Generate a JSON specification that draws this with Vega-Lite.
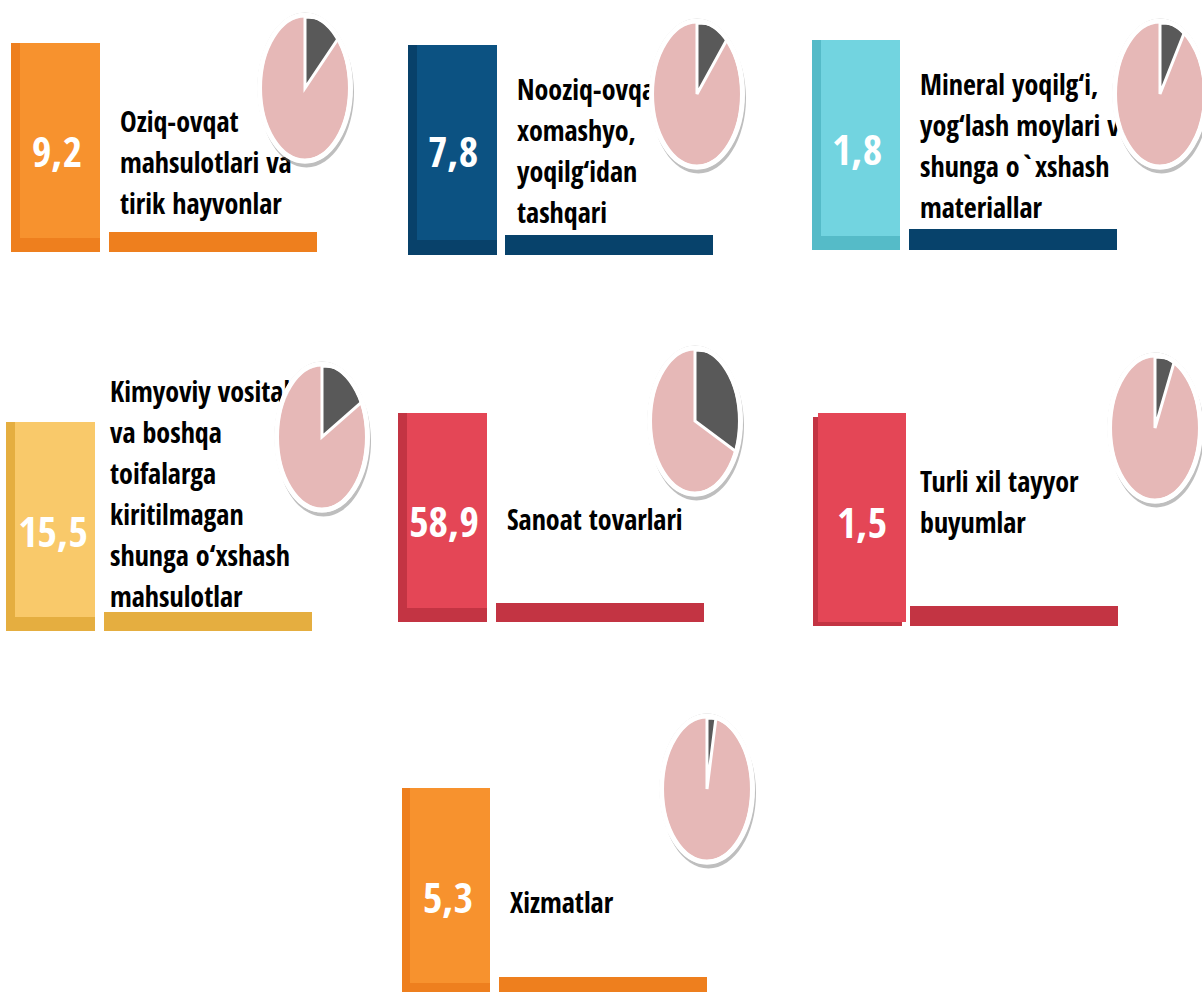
{
"$schema":"https://vega.github.io/schema/vega-lite/v6.json",
"autosize":{"type":"fit","contains":"padding"},
"width":1202,"height":992,"padding":0,"background":"white",
"config":{"view":{"stroke":null},"axis":{"disable":true},"legend":{"disable":true},
"locale":{"number":{"decimal":",","thousands":" ","grouping":[3],"currency":["",""]}},
"text":{"font":"Open Sans Condensed, Open Sans Condensed Bold, Roboto, sans-serif","fontWeight":"bold"}},
"datasets":{"items":[
{"category":"oziq","value":9.2,"label":"Oziq-ovqat\nmahsulotlari va\ntirik hayvonlar","dark":9.4},
{"category":"nooziq","value":7.8,"label":"Nooziq-ovqat\nxomashyo,\nyoqilg‘idan\ntashqari","dark":8.0},
{"category":"mineral","value":1.8,"label":"Mineral yoqilg‘i,\nyog‘lash moylari va\nshunga o`xshash\nmateriallar","dark":6.0},
{"category":"kimyo","value":15.5,"label":"Kimyoviy vositalar\nva boshqa\ntoifalarga\nkiritilmagan\nshunga o‘xshash\nmahsulotlar","dark":13.5},
{"category":"sanoat","value":58.9,"label":"Sanoat tovarlari","dark":35.2},
{"category":"turli","value":1.5,"label":"Turli xil tayyor\nbuyumlar","dark":4.5},
{"category":"xizmat","value":5.3,"label":"Xizmatlar","dark":2.0}
]},
"data":{"name":"items"},
"layer":[
{"transform":[{"filter":"datum.category==='oziq'"}],"layer":[
 {"mark":{"type":"rect","color":"#EE7F1E"},"encoding":{"x":{"datum":11,"type":"quantitative","scale":{"domain":[0,1202],"nice":false,"zero":false}},"x2":{"datum":100},"y":{"datum":43,"type":"quantitative","scale":{"domain":[0,992],"nice":false,"zero":false,"reverse":true}},"y2":{"datum":252}}},
 {"mark":{"type":"rect","color":"#F7922E"},"encoding":{"x":{"datum":20,"type":"quantitative","scale":{"domain":[0,1202],"nice":false,"zero":false}},"x2":{"datum":100},"y":{"datum":43,"type":"quantitative","scale":{"domain":[0,992],"nice":false,"zero":false,"reverse":true}},"y2":{"datum":238}}},
 {"mark":{"type":"text","color":"white","fontSize":42,"align":"center","baseline":"alphabetic"},"encoding":{"x":{"datum":57,"type":"quantitative","scale":{"domain":[0,1202],"nice":false,"zero":false}},"y":{"datum":167,"type":"quantitative","scale":{"domain":[0,992],"nice":false,"zero":false,"reverse":true}},"text":{"field":"value","type":"quantitative","format":".1f"}}},
 {"mark":{"type":"text","color":"black","fontSize":28,"align":"left","baseline":"alphabetic","lineBreak":"\n","lineHeight":41},"encoding":{"x":{"datum":120,"type":"quantitative","scale":{"domain":[0,1202],"nice":false,"zero":false}},"y":{"datum":132,"type":"quantitative","scale":{"domain":[0,992],"nice":false,"zero":false,"reverse":true}},"text":{"field":"label"}}},
 {"mark":{"type":"rect","color":"#EE7F1E"},"encoding":{"x":{"datum":109,"type":"quantitative","scale":{"domain":[0,1202],"nice":false,"zero":false}},"x2":{"datum":317},"y":{"datum":232,"type":"quantitative","scale":{"domain":[0,992],"nice":false,"zero":false,"reverse":true}},"y2":{"datum":252}}},
 {"encoding":{"x":{"datum":305,"type":"quantitative","scale":{"domain":[0,1202],"nice":false,"zero":false}},"y":{"datum":88,"type":"quantitative","scale":{"domain":[0,992],"nice":false,"zero":false,"reverse":true}}},"layer":[
  {"mark":{"type":"point","clip":true,"shape":"M0,-1A0.613,1,0,1,1,0,1A0.613,1,0,1,1,0,-1Z","size":20164,"filled":true,"color":"#E6B8B7","opacity":1,"strokeWidth":0}},
  {"mark":{"type":"arc","radius":71,"color":"#595959","stroke":"white","strokeWidth":3,"clip":true},"encoding":{"theta":{"field":"dark","type":"quantitative","scale":{"domain":[0,100]}}}},
  {"mark":{"type":"point","clip":true,"shape":"M0,-1A1,1,0,0,1,0,1L0,0.959A0.588,0.959,0,0,0,0,-0.959Z","size":21904,"filled":true,"color":"white","opacity":1,"strokeWidth":0}},
  {"mark":{"type":"point","clip":true,"shape":"M0.02,-0.94A0.625,0.993,0,1,1,0.02,1.046A0.625,0.993,0,1,1,0.02,-0.94ZM0,-0.993A0.625,0.993,0,1,0,0,0.993A0.625,0.993,0,1,0,0,-0.993Z","size":23104,"filled":true,"color":"#6E6E6E","opacity":0.45,"strokeWidth":0}},
  {"mark":{"type":"point","clip":true,"shape":"M0,-1A0.623,1,0,1,1,0,1A0.623,1,0,1,1,0,-1Z","size":21316,"filled":false,"color":"white","opacity":1,"strokeWidth":5}}
 ]}
]},
{"transform":[{"filter":"datum.category==='nooziq'"}],"layer":[
 {"mark":{"type":"rect","color":"#08416A"},"encoding":{"x":{"datum":408,"type":"quantitative","scale":{"domain":[0,1202],"nice":false,"zero":false}},"x2":{"datum":497},"y":{"datum":45,"type":"quantitative","scale":{"domain":[0,992],"nice":false,"zero":false,"reverse":true}},"y2":{"datum":255}}},
 {"mark":{"type":"rect","color":"#0C5282"},"encoding":{"x":{"datum":417,"type":"quantitative","scale":{"domain":[0,1202],"nice":false,"zero":false}},"x2":{"datum":497},"y":{"datum":45,"type":"quantitative","scale":{"domain":[0,992],"nice":false,"zero":false,"reverse":true}},"y2":{"datum":240}}},
 {"mark":{"type":"text","color":"white","fontSize":42,"align":"center","baseline":"alphabetic"},"encoding":{"x":{"datum":453,"type":"quantitative","scale":{"domain":[0,1202],"nice":false,"zero":false}},"y":{"datum":167,"type":"quantitative","scale":{"domain":[0,992],"nice":false,"zero":false,"reverse":true}},"text":{"field":"value","type":"quantitative","format":".1f"}}},
 {"mark":{"type":"text","color":"black","fontSize":28,"align":"left","baseline":"alphabetic","lineBreak":"\n","lineHeight":41},"encoding":{"x":{"datum":517,"type":"quantitative","scale":{"domain":[0,1202],"nice":false,"zero":false}},"y":{"datum":100,"type":"quantitative","scale":{"domain":[0,992],"nice":false,"zero":false,"reverse":true}},"text":{"field":"label"}}},
 {"mark":{"type":"rect","color":"#07426B"},"encoding":{"x":{"datum":505,"type":"quantitative","scale":{"domain":[0,1202],"nice":false,"zero":false}},"x2":{"datum":713},"y":{"datum":235,"type":"quantitative","scale":{"domain":[0,992],"nice":false,"zero":false,"reverse":true}},"y2":{"datum":255}}},
 {"encoding":{"x":{"datum":697,"type":"quantitative","scale":{"domain":[0,1202],"nice":false,"zero":false}},"y":{"datum":94,"type":"quantitative","scale":{"domain":[0,992],"nice":false,"zero":false,"reverse":true}}},"layer":[
  {"mark":{"type":"point","clip":true,"shape":"M0,-1A0.613,1,0,1,1,0,1A0.613,1,0,1,1,0,-1Z","size":20164,"filled":true,"color":"#E6B8B7","opacity":1,"strokeWidth":0}},
  {"mark":{"type":"arc","radius":71,"color":"#595959","stroke":"white","strokeWidth":3,"clip":true},"encoding":{"theta":{"field":"dark","type":"quantitative","scale":{"domain":[0,100]}}}},
  {"mark":{"type":"point","clip":true,"shape":"M0,-1A1,1,0,0,1,0,1L0,0.959A0.588,0.959,0,0,0,0,-0.959Z","size":21904,"filled":true,"color":"white","opacity":1,"strokeWidth":0}},
  {"mark":{"type":"point","clip":true,"shape":"M0.02,-0.94A0.625,0.993,0,1,1,0.02,1.046A0.625,0.993,0,1,1,0.02,-0.94ZM0,-0.993A0.625,0.993,0,1,0,0,0.993A0.625,0.993,0,1,0,0,-0.993Z","size":23104,"filled":true,"color":"#6E6E6E","opacity":0.45,"strokeWidth":0}},
  {"mark":{"type":"point","clip":true,"shape":"M0,-1A0.623,1,0,1,1,0,1A0.623,1,0,1,1,0,-1Z","size":21316,"filled":false,"color":"white","opacity":1,"strokeWidth":5}}
 ]}
]},
{"transform":[{"filter":"datum.category==='mineral'"}],"layer":[
 {"mark":{"type":"rect","color":"#55BBC8"},"encoding":{"x":{"datum":812,"type":"quantitative","scale":{"domain":[0,1202],"nice":false,"zero":false}},"x2":{"datum":900},"y":{"datum":40,"type":"quantitative","scale":{"domain":[0,992],"nice":false,"zero":false,"reverse":true}},"y2":{"datum":250}}},
 {"mark":{"type":"rect","color":"#72D4E0"},"encoding":{"x":{"datum":821,"type":"quantitative","scale":{"domain":[0,1202],"nice":false,"zero":false}},"x2":{"datum":900},"y":{"datum":40,"type":"quantitative","scale":{"domain":[0,992],"nice":false,"zero":false,"reverse":true}},"y2":{"datum":236}}},
 {"mark":{"type":"text","color":"white","fontSize":42,"align":"center","baseline":"alphabetic"},"encoding":{"x":{"datum":857,"type":"quantitative","scale":{"domain":[0,1202],"nice":false,"zero":false}},"y":{"datum":165,"type":"quantitative","scale":{"domain":[0,992],"nice":false,"zero":false,"reverse":true}},"text":{"field":"value","type":"quantitative","format":".1f"}}},
 {"mark":{"type":"text","color":"black","fontSize":28,"align":"left","baseline":"alphabetic","lineBreak":"\n","lineHeight":41},"encoding":{"x":{"datum":920,"type":"quantitative","scale":{"domain":[0,1202],"nice":false,"zero":false}},"y":{"datum":95,"type":"quantitative","scale":{"domain":[0,992],"nice":false,"zero":false,"reverse":true}},"text":{"field":"label"}}},
 {"mark":{"type":"rect","color":"#07426B"},"encoding":{"x":{"datum":909,"type":"quantitative","scale":{"domain":[0,1202],"nice":false,"zero":false}},"x2":{"datum":1117},"y":{"datum":229,"type":"quantitative","scale":{"domain":[0,992],"nice":false,"zero":false,"reverse":true}},"y2":{"datum":250}}},
 {"encoding":{"x":{"datum":1160,"type":"quantitative","scale":{"domain":[0,1202],"nice":false,"zero":false}},"y":{"datum":94,"type":"quantitative","scale":{"domain":[0,992],"nice":false,"zero":false,"reverse":true}}},"layer":[
  {"mark":{"type":"point","clip":true,"shape":"M0,-1A0.613,1,0,1,1,0,1A0.613,1,0,1,1,0,-1Z","size":20164,"filled":true,"color":"#E6B8B7","opacity":1,"strokeWidth":0}},
  {"mark":{"type":"arc","radius":71,"color":"#595959","stroke":"white","strokeWidth":3,"clip":true},"encoding":{"theta":{"field":"dark","type":"quantitative","scale":{"domain":[0,100]}}}},
  {"mark":{"type":"point","clip":true,"shape":"M0,-1A1,1,0,0,1,0,1L0,0.959A0.588,0.959,0,0,0,0,-0.959Z","size":21904,"filled":true,"color":"white","opacity":1,"strokeWidth":0}},
  {"mark":{"type":"point","clip":true,"shape":"M0.02,-0.94A0.625,0.993,0,1,1,0.02,1.046A0.625,0.993,0,1,1,0.02,-0.94ZM0,-0.993A0.625,0.993,0,1,0,0,0.993A0.625,0.993,0,1,0,0,-0.993Z","size":23104,"filled":true,"color":"#6E6E6E","opacity":0.45,"strokeWidth":0}},
  {"mark":{"type":"point","clip":true,"shape":"M0,-1A0.623,1,0,1,1,0,1A0.623,1,0,1,1,0,-1Z","size":21316,"filled":false,"color":"white","opacity":1,"strokeWidth":5}}
 ]}
]},
{"transform":[{"filter":"datum.category==='kimyo'"}],"layer":[
 {"mark":{"type":"rect","color":"#E5AE40"},"encoding":{"x":{"datum":6,"type":"quantitative","scale":{"domain":[0,1202],"nice":false,"zero":false}},"x2":{"datum":95},"y":{"datum":422,"type":"quantitative","scale":{"domain":[0,992],"nice":false,"zero":false,"reverse":true}},"y2":{"datum":631}}},
 {"mark":{"type":"rect","color":"#F9C96A"},"encoding":{"x":{"datum":15,"type":"quantitative","scale":{"domain":[0,1202],"nice":false,"zero":false}},"x2":{"datum":95},"y":{"datum":422,"type":"quantitative","scale":{"domain":[0,992],"nice":false,"zero":false,"reverse":true}},"y2":{"datum":617}}},
 {"mark":{"type":"text","color":"white","fontSize":42,"align":"center","baseline":"alphabetic"},"encoding":{"x":{"datum":53,"type":"quantitative","scale":{"domain":[0,1202],"nice":false,"zero":false}},"y":{"datum":547,"type":"quantitative","scale":{"domain":[0,992],"nice":false,"zero":false,"reverse":true}},"text":{"field":"value","type":"quantitative","format":".1f"}}},
 {"mark":{"type":"text","color":"black","fontSize":28,"align":"left","baseline":"alphabetic","lineBreak":"\n","lineHeight":41},"encoding":{"x":{"datum":110,"type":"quantitative","scale":{"domain":[0,1202],"nice":false,"zero":false}},"y":{"datum":402,"type":"quantitative","scale":{"domain":[0,992],"nice":false,"zero":false,"reverse":true}},"text":{"field":"label"}}},
 {"mark":{"type":"rect","color":"#E5AE40"},"encoding":{"x":{"datum":104,"type":"quantitative","scale":{"domain":[0,1202],"nice":false,"zero":false}},"x2":{"datum":312},"y":{"datum":612,"type":"quantitative","scale":{"domain":[0,992],"nice":false,"zero":false,"reverse":true}},"y2":{"datum":631}}},
 {"encoding":{"x":{"datum":322,"type":"quantitative","scale":{"domain":[0,1202],"nice":false,"zero":false}},"y":{"datum":437,"type":"quantitative","scale":{"domain":[0,992],"nice":false,"zero":false,"reverse":true}}},"layer":[
  {"mark":{"type":"point","clip":true,"shape":"M0,-1A0.613,1,0,1,1,0,1A0.613,1,0,1,1,0,-1Z","size":20164,"filled":true,"color":"#E6B8B7","opacity":1,"strokeWidth":0}},
  {"mark":{"type":"arc","radius":71,"color":"#595959","stroke":"white","strokeWidth":3,"clip":true},"encoding":{"theta":{"field":"dark","type":"quantitative","scale":{"domain":[0,100]}}}},
  {"mark":{"type":"point","clip":true,"shape":"M0,-1A1,1,0,0,1,0,1L0,0.959A0.588,0.959,0,0,0,0,-0.959Z","size":21904,"filled":true,"color":"white","opacity":1,"strokeWidth":0}},
  {"mark":{"type":"point","clip":true,"shape":"M0.02,-0.94A0.625,0.993,0,1,1,0.02,1.046A0.625,0.993,0,1,1,0.02,-0.94ZM0,-0.993A0.625,0.993,0,1,0,0,0.993A0.625,0.993,0,1,0,0,-0.993Z","size":23104,"filled":true,"color":"#6E6E6E","opacity":0.45,"strokeWidth":0}},
  {"mark":{"type":"point","clip":true,"shape":"M0,-1A0.623,1,0,1,1,0,1A0.623,1,0,1,1,0,-1Z","size":21316,"filled":false,"color":"white","opacity":1,"strokeWidth":5}}
 ]}
]},
{"transform":[{"filter":"datum.category==='sanoat'"}],"layer":[
 {"mark":{"type":"rect","color":"#C33443"},"encoding":{"x":{"datum":398,"type":"quantitative","scale":{"domain":[0,1202],"nice":false,"zero":false}},"x2":{"datum":487},"y":{"datum":413,"type":"quantitative","scale":{"domain":[0,992],"nice":false,"zero":false,"reverse":true}},"y2":{"datum":622}}},
 {"mark":{"type":"rect","color":"#E44656"},"encoding":{"x":{"datum":407,"type":"quantitative","scale":{"domain":[0,1202],"nice":false,"zero":false}},"x2":{"datum":487},"y":{"datum":413,"type":"quantitative","scale":{"domain":[0,992],"nice":false,"zero":false,"reverse":true}},"y2":{"datum":608}}},
 {"mark":{"type":"text","color":"white","fontSize":42,"align":"center","baseline":"alphabetic"},"encoding":{"x":{"datum":444,"type":"quantitative","scale":{"domain":[0,1202],"nice":false,"zero":false}},"y":{"datum":537,"type":"quantitative","scale":{"domain":[0,992],"nice":false,"zero":false,"reverse":true}},"text":{"field":"value","type":"quantitative","format":".1f"}}},
 {"mark":{"type":"text","color":"black","fontSize":28,"align":"left","baseline":"alphabetic","lineBreak":"\n","lineHeight":41},"encoding":{"x":{"datum":507,"type":"quantitative","scale":{"domain":[0,1202],"nice":false,"zero":false}},"y":{"datum":530,"type":"quantitative","scale":{"domain":[0,992],"nice":false,"zero":false,"reverse":true}},"text":{"field":"label"}}},
 {"mark":{"type":"rect","color":"#C33443"},"encoding":{"x":{"datum":496,"type":"quantitative","scale":{"domain":[0,1202],"nice":false,"zero":false}},"x2":{"datum":704},"y":{"datum":603,"type":"quantitative","scale":{"domain":[0,992],"nice":false,"zero":false,"reverse":true}},"y2":{"datum":622}}},
 {"encoding":{"x":{"datum":695,"type":"quantitative","scale":{"domain":[0,1202],"nice":false,"zero":false}},"y":{"datum":421,"type":"quantitative","scale":{"domain":[0,992],"nice":false,"zero":false,"reverse":true}}},"layer":[
  {"mark":{"type":"point","clip":true,"shape":"M0,-1A0.613,1,0,1,1,0,1A0.613,1,0,1,1,0,-1Z","size":20164,"filled":true,"color":"#E6B8B7","opacity":1,"strokeWidth":0}},
  {"mark":{"type":"arc","radius":71,"color":"#595959","stroke":"white","strokeWidth":3,"clip":true},"encoding":{"theta":{"field":"dark","type":"quantitative","scale":{"domain":[0,100]}}}},
  {"mark":{"type":"point","clip":true,"shape":"M0,-1A1,1,0,0,1,0,1L0,0.959A0.588,0.959,0,0,0,0,-0.959Z","size":21904,"filled":true,"color":"white","opacity":1,"strokeWidth":0}},
  {"mark":{"type":"point","clip":true,"shape":"M0.02,-0.94A0.625,0.993,0,1,1,0.02,1.046A0.625,0.993,0,1,1,0.02,-0.94ZM0,-0.993A0.625,0.993,0,1,0,0,0.993A0.625,0.993,0,1,0,0,-0.993Z","size":23104,"filled":true,"color":"#6E6E6E","opacity":0.45,"strokeWidth":0}},
  {"mark":{"type":"point","clip":true,"shape":"M0,-1A0.623,1,0,1,1,0,1A0.623,1,0,1,1,0,-1Z","size":21316,"filled":false,"color":"white","opacity":1,"strokeWidth":5}}
 ]}
]},
{"transform":[{"filter":"datum.category==='turli'"}],"layer":[
 {"mark":{"type":"rect","color":"#C33443"},"encoding":{"x":{"datum":813,"type":"quantitative","scale":{"domain":[0,1202],"nice":false,"zero":false}},"x2":{"datum":902},"y":{"datum":417,"type":"quantitative","scale":{"domain":[0,992],"nice":false,"zero":false,"reverse":true}},"y2":{"datum":626}}},
 {"mark":{"type":"rect","color":"#E44656"},"encoding":{"x":{"datum":818,"type":"quantitative","scale":{"domain":[0,1202],"nice":false,"zero":false}},"x2":{"datum":906},"y":{"datum":413,"type":"quantitative","scale":{"domain":[0,992],"nice":false,"zero":false,"reverse":true}},"y2":{"datum":622}}},
 {"mark":{"type":"text","color":"white","fontSize":42,"align":"center","baseline":"alphabetic"},"encoding":{"x":{"datum":862,"type":"quantitative","scale":{"domain":[0,1202],"nice":false,"zero":false}},"y":{"datum":538,"type":"quantitative","scale":{"domain":[0,992],"nice":false,"zero":false,"reverse":true}},"text":{"field":"value","type":"quantitative","format":".1f"}}},
 {"mark":{"type":"text","color":"black","fontSize":28,"align":"left","baseline":"alphabetic","lineBreak":"\n","lineHeight":41},"encoding":{"x":{"datum":920,"type":"quantitative","scale":{"domain":[0,1202],"nice":false,"zero":false}},"y":{"datum":492,"type":"quantitative","scale":{"domain":[0,992],"nice":false,"zero":false,"reverse":true}},"text":{"field":"label"}}},
 {"mark":{"type":"rect","color":"#C33443"},"encoding":{"x":{"datum":910,"type":"quantitative","scale":{"domain":[0,1202],"nice":false,"zero":false}},"x2":{"datum":1118},"y":{"datum":606,"type":"quantitative","scale":{"domain":[0,992],"nice":false,"zero":false,"reverse":true}},"y2":{"datum":626}}},
 {"encoding":{"x":{"datum":1155,"type":"quantitative","scale":{"domain":[0,1202],"nice":false,"zero":false}},"y":{"datum":428,"type":"quantitative","scale":{"domain":[0,992],"nice":false,"zero":false,"reverse":true}}},"layer":[
  {"mark":{"type":"point","clip":true,"shape":"M0,-1A0.613,1,0,1,1,0,1A0.613,1,0,1,1,0,-1Z","size":20164,"filled":true,"color":"#E6B8B7","opacity":1,"strokeWidth":0}},
  {"mark":{"type":"arc","radius":71,"color":"#595959","stroke":"white","strokeWidth":3,"clip":true},"encoding":{"theta":{"field":"dark","type":"quantitative","scale":{"domain":[0,100]}}}},
  {"mark":{"type":"point","clip":true,"shape":"M0,-1A1,1,0,0,1,0,1L0,0.959A0.588,0.959,0,0,0,0,-0.959Z","size":21904,"filled":true,"color":"white","opacity":1,"strokeWidth":0}},
  {"mark":{"type":"point","clip":true,"shape":"M0.02,-0.94A0.625,0.993,0,1,1,0.02,1.046A0.625,0.993,0,1,1,0.02,-0.94ZM0,-0.993A0.625,0.993,0,1,0,0,0.993A0.625,0.993,0,1,0,0,-0.993Z","size":23104,"filled":true,"color":"#6E6E6E","opacity":0.45,"strokeWidth":0}},
  {"mark":{"type":"point","clip":true,"shape":"M0,-1A0.623,1,0,1,1,0,1A0.623,1,0,1,1,0,-1Z","size":21316,"filled":false,"color":"white","opacity":1,"strokeWidth":5}}
 ]}
]},
{"transform":[{"filter":"datum.category==='xizmat'"}],"layer":[
 {"mark":{"type":"rect","color":"#EE7F1E"},"encoding":{"x":{"datum":402,"type":"quantitative","scale":{"domain":[0,1202],"nice":false,"zero":false}},"x2":{"datum":490},"y":{"datum":788,"type":"quantitative","scale":{"domain":[0,992],"nice":false,"zero":false,"reverse":true}},"y2":{"datum":992}}},
 {"mark":{"type":"rect","color":"#F7922E"},"encoding":{"x":{"datum":410,"type":"quantitative","scale":{"domain":[0,1202],"nice":false,"zero":false}},"x2":{"datum":490},"y":{"datum":788,"type":"quantitative","scale":{"domain":[0,992],"nice":false,"zero":false,"reverse":true}},"y2":{"datum":983}}},
 {"mark":{"type":"text","color":"white","fontSize":42,"align":"center","baseline":"alphabetic"},"encoding":{"x":{"datum":448,"type":"quantitative","scale":{"domain":[0,1202],"nice":false,"zero":false}},"y":{"datum":913,"type":"quantitative","scale":{"domain":[0,992],"nice":false,"zero":false,"reverse":true}},"text":{"field":"value","type":"quantitative","format":".1f"}}},
 {"mark":{"type":"text","color":"black","fontSize":28,"align":"left","baseline":"alphabetic","lineBreak":"\n","lineHeight":41},"encoding":{"x":{"datum":510,"type":"quantitative","scale":{"domain":[0,1202],"nice":false,"zero":false}},"y":{"datum":913,"type":"quantitative","scale":{"domain":[0,992],"nice":false,"zero":false,"reverse":true}},"text":{"field":"label"}}},
 {"mark":{"type":"rect","color":"#EE7F1E"},"encoding":{"x":{"datum":499,"type":"quantitative","scale":{"domain":[0,1202],"nice":false,"zero":false}},"x2":{"datum":707},"y":{"datum":977,"type":"quantitative","scale":{"domain":[0,992],"nice":false,"zero":false,"reverse":true}},"y2":{"datum":992}}},
 {"encoding":{"x":{"datum":707,"type":"quantitative","scale":{"domain":[0,1202],"nice":false,"zero":false}},"y":{"datum":789,"type":"quantitative","scale":{"domain":[0,992],"nice":false,"zero":false,"reverse":true}}},"layer":[
  {"mark":{"type":"point","clip":true,"shape":"M0,-1A0.613,1,0,1,1,0,1A0.613,1,0,1,1,0,-1Z","size":20164,"filled":true,"color":"#E6B8B7","opacity":1,"strokeWidth":0}},
  {"mark":{"type":"arc","radius":71,"color":"#595959","stroke":"white","strokeWidth":3,"clip":true},"encoding":{"theta":{"field":"dark","type":"quantitative","scale":{"domain":[0,100]}}}},
  {"mark":{"type":"point","clip":true,"shape":"M0,-1A1,1,0,0,1,0,1L0,0.959A0.588,0.959,0,0,0,0,-0.959Z","size":21904,"filled":true,"color":"white","opacity":1,"strokeWidth":0}},
  {"mark":{"type":"point","clip":true,"shape":"M0.02,-0.94A0.625,0.993,0,1,1,0.02,1.046A0.625,0.993,0,1,1,0.02,-0.94ZM0,-0.993A0.625,0.993,0,1,0,0,0.993A0.625,0.993,0,1,0,0,-0.993Z","size":23104,"filled":true,"color":"#6E6E6E","opacity":0.45,"strokeWidth":0}},
  {"mark":{"type":"point","clip":true,"shape":"M0,-1A0.623,1,0,1,1,0,1A0.623,1,0,1,1,0,-1Z","size":21316,"filled":false,"color":"white","opacity":1,"strokeWidth":5}}
 ]}
]}
]
}
